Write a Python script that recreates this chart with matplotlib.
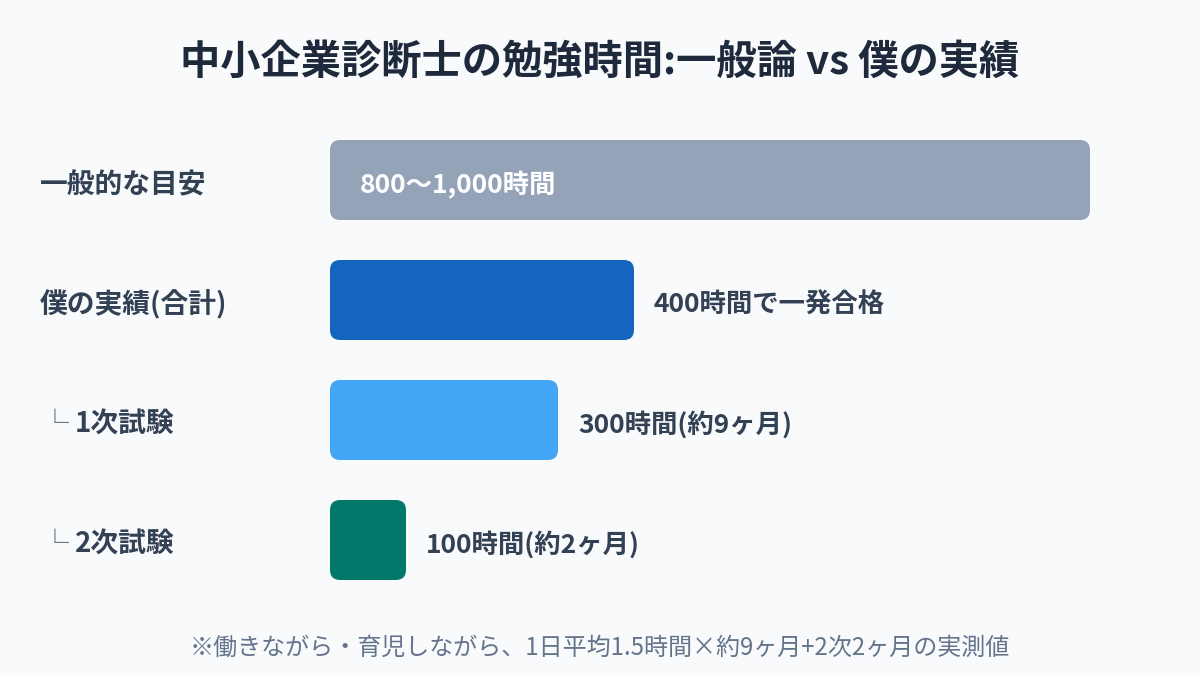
import matplotlib.pyplot as plt
from matplotlib.patches import FancyBboxPatch
from matplotlib.transforms import blended_transform_factory

plt.rcParams['font.family'] = ['Noto Sans CJK JP', 'DejaVu Sans']

# data
categories = ["一般的な目安", "僕の実績(合計)", "1次試験", "2次試験"]
is_sub = [False, False, True, True]
hours = [1000, 400, 300, 100]
value_labels = ["800〜1,000時間", "400時間で一発合格", "300時間(約9ヶ月)", "100時間(約2ヶ月)"]
colors = ["#94A3B8", "#1565C0", "#42A5F5", "#00796B"]

bg = "#F8FAFC"
text_dark = "#334155"

fig = plt.figure(figsize=(12, 6.75), dpi=100, facecolor=bg)
ax = fig.add_axes([330 / 1200, 75 / 675, 760 / 1200, 480 / 675])
ax.set_facecolor(bg)
ax.set_xlim(0, 1000)
ax.set_ylim(len(categories) - 0.5, -0.5)
ax.axis("off")

bar_h = 80 / 120
px_x = 1000 / 760  # hours per pixel
px_y = 1 / 120     # rows per pixel
radius = 10 * px_x
dy = 5 * px_y      # text sits a little below bar centre

for i, (h, c) in enumerate(zip(hours, colors)):
    box = FancyBboxPatch((0, i - bar_h / 2), h, bar_h,
                         boxstyle=f"round,pad=0,rounding_size={radius}",
                         mutation_aspect=px_y / px_x,
                         facecolor=c, edgecolor="none")
    ax.add_patch(box)

    if i == 0:
        ax.text(30 * px_x, i + dy, value_labels[i], color="white", fontsize=19,
                fontweight="bold", va="center", ha="left")
    else:
        ax.text(h + 20 * px_x, i + dy, value_labels[i], color=text_dark, fontsize=19,
                fontweight="bold", va="center", ha="left")

# row labels
tr = blended_transform_factory(fig.transFigure, ax.transData)
for i, (cat, sub) in enumerate(zip(categories, is_sub)):
    if sub:
        ax.text(41 / 1200, i + dy, "└", transform=tr, color="#64748B", fontsize=20,
                va="center", ha="left", clip_on=False)
        ax.text(75 / 1200, i + dy, cat, transform=tr, color=text_dark, fontsize=20,
                fontweight="bold", va="center", ha="left", clip_on=False)
    else:
        ax.text(40 / 1200, i + dy, cat, transform=tr, color=text_dark, fontsize=20,
                fontweight="bold", va="center", ha="left", clip_on=False)

fig.text(0.5, 1 - 62 / 675, "中小企業診断士の勉強時間:一般論 vs 僕の実績",
         ha="center", va="center", fontsize=29, fontweight="bold", color="#1E293B")
fig.text(0.5, 1 - 648 / 675,
         "※働きながら・育児しながら、1日平均1.5時間×約9ヶ月+2次2ヶ月の実測値",
         ha="center", va="center", fontsize=17.3, color="#64748B")

fig.savefig("out.png", dpi=100, facecolor=bg)
